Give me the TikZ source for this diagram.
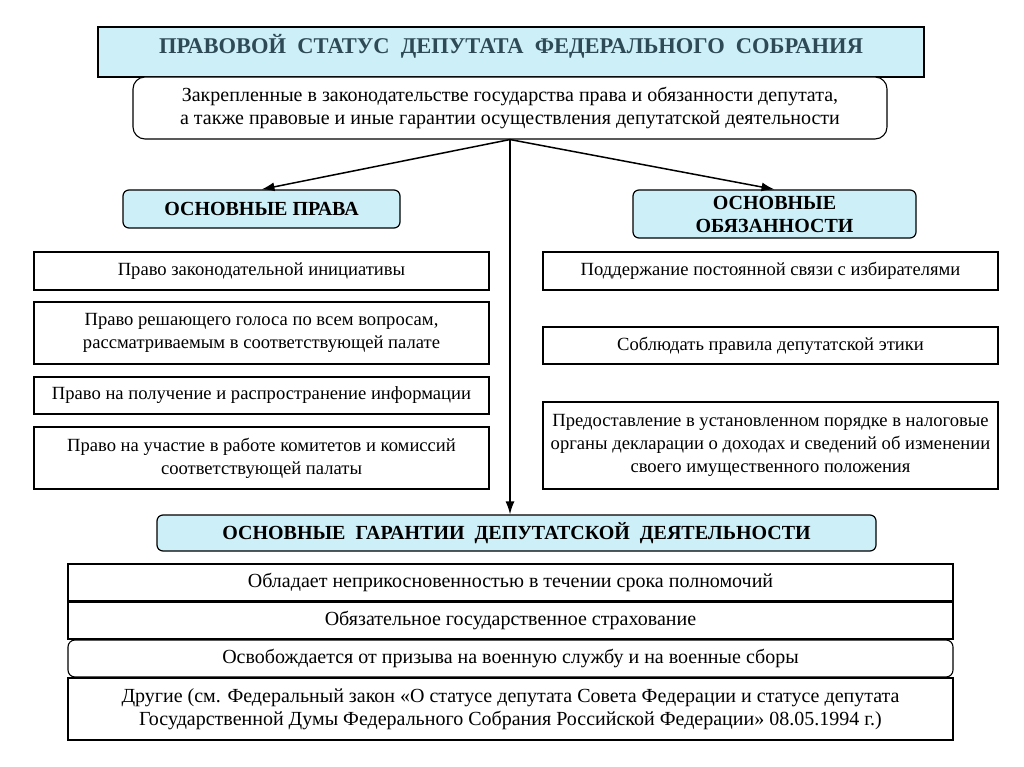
\documentclass[tikz,border=0pt]{standalone}
\usepackage{fontspec}
\setmainfont{Liberation Serif}
\usepackage{xcolor}
\definecolor{pale}{HTML}{CDEFF8}
\definecolor{slate}{HTML}{2E4A56}
\usetikzlibrary{arrows.meta}
\tikzset{
    head/.style = {
      draw,
      fill=pale,
      line width=1.2pt,
      inner sep=0pt,
      font=\fontsize{20}{23}\selectfont\bfseries,
      align=center
    },
    item/.style = {
      draw,
      fill=white,
      line width=1.1pt,
      inner sep=0pt,
      align=center
    },
    wide/.style = {
      item,
      font=\fontsize{20}{23.5}\selectfont
    },
    link/.style = {
      line width=1.5pt,
      -{Latex[length=13pt,width=9pt]}
    }
}

\begin{document}
\begin{tikzpicture}[x=1pt,y=-1pt,font=\fontsize{18.6}{23}\selectfont]
      \useasboundingbox (0,0) rectangle (1024,767);
      \node[head, minimum width=826, minimum height=50] (T) at (511,52) {};
      \node[font=\fontsize{22.5}{26}\selectfont\bfseries, text=slate] (Tt) at (511,46)
        {ПРАВОВОЙ~ СТАТУС~ ДЕПУТАТА~ ФЕДЕРАЛЬНОГО~ СОБРАНИЯ};
      \node[wide, rounded corners=12pt, minimum width=754, minimum height=62] (S) at (510,108)
        {Закрепленные в законодательстве государства права и обязанности депутата,\\
         а также правовые и иные гарантии осуществления депутатской деятельности};

      \node[head, rounded corners=6pt, minimum width=277, minimum height=38] (P) at (261.5,209) {ОСНОВНЫЕ ПРАВА};
      \node[head, rounded corners=6pt, minimum width=283, minimum height=48] (O) at (774.5,214) {ОСНОВНЫЕ\\ОБЯЗАННОСТИ};

      \node[item, minimum width=455, minimum height=38] (L1) at (261.5,271) {Право законодательной инициативы};
      \node[item, minimum width=455, minimum height=62] (L2) at (261.5,333)
        {Право решающего голоса по всем вопросам,\\рассматриваемым в соответствующей палате};
      \node[item, minimum width=455, minimum height=37] (L3) at (261.5,395.5) {Право на получение и распространение информации};
      \node[item, minimum width=455, minimum height=62] (L4) at (261.5,458)
        {Право на участие в работе комитетов и комиссий\\соответствующей палаты};

      \node[item, minimum width=455, minimum height=38] (R1) at (770.5,271) {Поддержание постоянной связи с избирателями};
      \node[item, minimum width=455, minimum height=37] (R2) at (770.5,345.5) {Соблюдать правила депутатской этики};
      \node[item, minimum width=455, minimum height=87] (R3) at (770.5,445.5)
        {Предоставление в установленном порядке в налоговые\\органы декларации о доходах и сведений об изменении\\своего имущественного положения};

      \node[head, rounded corners=6pt, minimum width=719, minimum height=36] (G) at (516.5,533)
        {ОСНОВНЫЕ~ ГАРАНТИИ~ ДЕПУТАТСКОЙ~ ДЕЯТЕЛЬНОСТИ};

      \node[wide, minimum width=885, minimum height=37] (B1) at (510.5,582.5) {Обладает неприкосновенностью в течении срока полномочий};
      \node[wide, minimum width=885, minimum height=37] (B2) at (510.5,620.5) {Обязательное государственное страхование};
      \node[wide, rounded corners=7pt, minimum width=885, minimum height=37] (B3) at (510.5,658.5) {Освобождается от призыва на военную службу и на военные сборы};
      \node[wide, minimum width=885, minimum height=62] (B4) at (510.5,709)
        {Другие (см. Федеральный закон «О статусе депутата Совета Федерации и статусе депутата\\
         Государственной Думы Федерального Собрания Российской Федерации» 08.05.1994 г.)};

      \draw[link] (S.south) -- (P.north);
      \draw[link] (S.south) -- (O.north);
      \draw[link] (S.south) -- (S.south |- G.north);
\end{tikzpicture}
\end{document}
